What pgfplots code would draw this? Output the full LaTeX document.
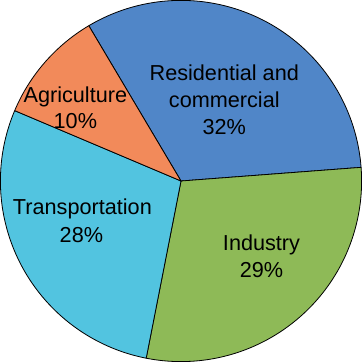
\documentclass[border=0pt]{standalone}
\usepackage{pgfplots}
\pgfplotsset{compat=1.18}
\usepackage{fontspec}
\setmainfont{Liberation Sans}
\definecolor{cblue}{RGB}{80,134,200}
\definecolor{cgreen}{RGB}{142,186,87}
\definecolor{ccyan}{RGB}{82,196,224}
\definecolor{corange}{RGB}{242,138,90}
\begin{document}
\begin{tikzpicture}
% values (percent): Residential and commercial 32, Industry 29, Transportation 28, Agriculture 10
\pgfmathsetmacro\tot{99}
\pgfmathsetmacro\aA{120.7}
\pgfmathsetmacro\aB{\aA-32/\tot*360}
\pgfmathsetmacro\aC{\aB-29/\tot*360}
\pgfmathsetmacro\aD{\aC-28/\tot*360}
\pgfmathsetmacro\aE{\aD-10/\tot*360}
\begin{axis}[scale only axis, width=362bp, height=362bp,
  xmin=0, xmax=362, ymin=0, ymax=362, axis lines=none, clip=false,
  every axis plot/.append style={draw=black, line width=0.8pt, samples=90, line join=round}]
\addplot[fill=cblue, domain=\aB:\aA] ({181+179.5*cos(x)},{181+179.5*sin(x)}) -- (181,181) -- cycle;
\addplot[fill=cgreen, domain=\aC:\aB] ({181+179.5*cos(x)},{181+179.5*sin(x)}) -- (181,181) -- cycle;
\addplot[fill=ccyan, domain=\aD:\aC] ({181+179.5*cos(x)},{181+179.5*sin(x)}) -- (181,181) -- cycle;
\addplot[fill=corange, domain=\aE:\aD] ({181+179.5*cos(x)},{181+179.5*sin(x)}) -- (181,181) -- cycle;
\begin{scope}[every node/.style={anchor=base, font=\fontsize{21.6}{27}\selectfont, inner sep=0pt}]
\node at (224,{362-81}) {Residential and};
\node at (224,{362-108}) {commercial};
\node at (224,{362-135}) {32\%};
\node at (76,{362-103}) {Agriculture};
\node at (76,{362-129}) {10\%};
\node at (83,{362-214}) {Transportation};
\node at (82,{362-242}) {28\%};
\node at (261,{362-250}) {Industry};
\node at (261,{362-277}) {29\%};
\end{scope}
\end{axis}
\end{tikzpicture}
\end{document}
